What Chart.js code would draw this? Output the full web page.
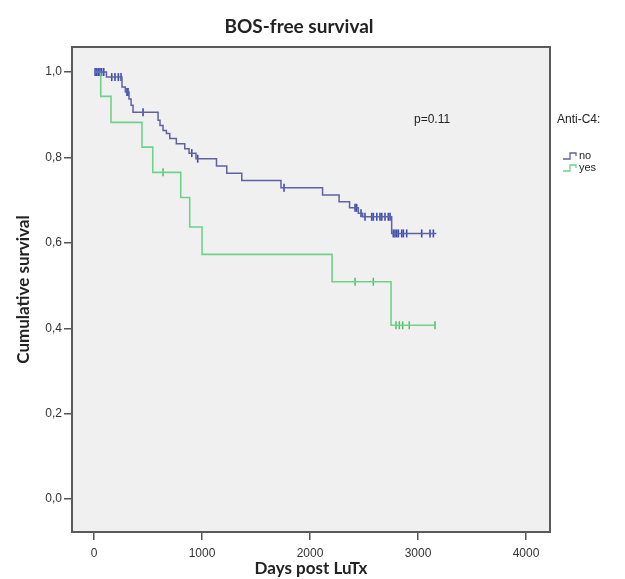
<!DOCTYPE html>
<html><head><meta charset="utf-8">
<script src="https://cdn.jsdelivr.net/npm/chart.js@4"></script>
<style>html,body{margin:0;padding:0;background:#fff;}</style>
</head><body>
<canvas id="c" width="625" height="579"></canvas>
<script>
const chartTitle = 'BOS-free survival';
const xAxisTitle = 'Days post LuTx';
const yAxisTitle = 'Cumulative survival';
const legendTitle = 'Anti-C4:';
const seriesNames = ['no', 'yes'];
const pValueText = 'p=0.11';
const xTicks = [0, 1000, 2000, 3000, 4000];
const yTicks = [0, 0.2, 0.4, 0.6, 0.8, 1.0];

const noEventDays = [0,115,259,290,324,343,361,593,611,639,670,701,762,840,880,944,1134,1229,1368,1731,2116,2269,2366,2447,2488,2756,3170];
const noSurvival  = [1,0.988,0.965,0.953,0.937,0.922,0.906,0.887,0.875,0.863,0.856,0.844,0.832,0.820,0.810,0.797,0.780,0.763,0.746,0.729,0.712,0.696,0.682,0.669,0.661,0.622,0.622];
const noCensorDays = [10,25,40,55,70,90,164,194,225,250,305,315,454,905,960,1759,2417,2432,2472,2509,2571,2586,2618,2648,2664,2694,2725,2741,2771,2787,2803,2818,2849,2864,2895,3034,3111,3142];

const yesEventDays = [0,62,157,444,544,803,886,1000,2204,2750,3160];
const yesSurvival  = [1,0.943,0.882,0.824,0.765,0.706,0.637,0.573,0.509,0.407,0.407];
const yesCensorDays = [639,2417,2586,2796,2827,2858,2919,3157];

const colNoLine = '#5f629e', colNoMark = '#3a4bb8';
const colYesLine = '#6fd28a', colYesMark = '#4dbd69';

function stepPoints(days, surv) { return days.map((d, i) => ({x: d, y: surv[i]})); }
function censorPoints(cDays, days, surv) {
  return cDays.map(c => {
    let s = surv[0];
    for (let i = 0; i < days.length; i++) { if (days[i] <= c) s = surv[i]; }
    return {x: c, y: s};
  });
}

const tickFont = {family: 'Liberation Sans, Arial, sans-serif', size: 12};
const titleFont = {family: 'Lato, sans-serif', size: 17, weight: 'bold'};

const decor = {
  id: 'decor',
  beforeDraw(chart) {
    const {ctx, chartArea: a} = chart;
    ctx.save();
    ctx.fillStyle = '#f0f0f0';
    ctx.fillRect(a.left, a.top, a.right - a.left, a.bottom - a.top);
    ctx.restore();
  },
  afterDatasetsDraw(chart) {
    const {ctx, chartArea: a} = chart;
    ctx.save();
    ctx.strokeStyle = '#5a5a5a';
    ctx.lineWidth = 2;
    ctx.strokeRect(a.left, a.top, a.right - a.left, a.bottom - a.top);
    ctx.restore();
  },
  afterDraw(chart) {
    const {ctx} = chart;
    ctx.save();
    ctx.fillStyle = '#222';
    ctx.font = 'bold 19px Lato, sans-serif';
    ctx.textAlign = 'center';
    ctx.textBaseline = 'middle';
    ctx.fillText(chartTitle, 299, 27);
    ctx.font = '12px "Liberation Sans", Arial, sans-serif';
    ctx.textAlign = 'left';
    ctx.fillText(pValueText, 414, 120);
    ctx.fillText(legendTitle, 557, 120);
    ctx.font = '11px "Liberation Sans", Arial, sans-serif';
    const items = [[seriesNames[0], colNoLine, 156], [seriesNames[1], colYesLine, 168]];
    items.forEach(([name, col, y]) => {
      ctx.strokeStyle = col;
      ctx.lineWidth = 1.3;
      ctx.beginPath();
      ctx.moveTo(563, y + 3); ctx.lineTo(570, y + 3); ctx.lineTo(570, y - 3);
      ctx.lineTo(576, y - 3); ctx.lineTo(576, y);
      ctx.stroke();
      ctx.fillStyle = '#222';
      ctx.fillText(name, 579, y);
    });
    ctx.restore();
  }
};

new Chart(document.getElementById('c'), {
  type: 'scatter',
  data: {
    datasets: [
      {label: seriesNames[0], data: stepPoints(noEventDays, noSurvival), showLine: true, stepped: 'before',
       borderColor: colNoLine, borderWidth: 1.5, pointRadius: 0, fill: false},
      {label: seriesNames[1], data: stepPoints(yesEventDays, yesSurvival), showLine: true, stepped: 'before',
       borderColor: colYesLine, borderWidth: 1.6, pointRadius: 0, fill: false},
      {label: seriesNames[0] + ' censored', data: censorPoints(noCensorDays, noEventDays, noSurvival), showLine: false,
       pointStyle: 'line', rotation: 90, pointRadius: 4, borderColor: colNoMark, pointBorderWidth: 1.6},
      {label: seriesNames[1] + ' censored', data: censorPoints(yesCensorDays, yesEventDays, yesSurvival), showLine: false,
       pointStyle: 'line', rotation: 90, pointRadius: 4, borderColor: colYesMark, pointBorderWidth: 1.5}
    ]
  },
  options: {
    responsive: false,
    animation: false,
    layout: {padding: {left: 9, right: 75, top: 47, bottom: 0}},
    plugins: {legend: {display: false}, tooltip: {enabled: false}},
    scales: {
      x: {
        type: 'linear', min: -204, max: 4222,
        afterBuildTicks: s => { s.ticks = xTicks.map(v => ({value: v})); },
        afterFit: s => { s.height = 47; },
        ticks: {font: tickFont, color: '#333', padding: 6, maxRotation: 0, callback: v => String(v)},
        grid: {drawOnChartArea: false, drawTicks: true, tickLength: 8, color: '#555', lineWidth: 1.5},
        border: {display: false},
        title: {display: true, text: xAxisTitle, font: titleFont, color: '#222', padding: {top: 0, bottom: 0}}
      },
      y: {
        type: 'linear', min: -0.077, max: 1.0585,
        afterBuildTicks: s => { s.ticks = yTicks.map(v => ({value: v})); },
        afterFit: s => { s.width = 63; },
        ticks: {font: tickFont, color: '#333', padding: 2, callback: v => v.toFixed(1).replace('.', ',')},
        grid: {drawOnChartArea: false, drawTicks: true, tickLength: 8, color: '#555', lineWidth: 1.5},
        border: {display: false},
        title: {display: true, text: yAxisTitle, font: titleFont, color: '#222', padding: {top: 4, bottom: 4}}
      }
    }
  },
  plugins: [decor]
});
</script>
</body></html>
